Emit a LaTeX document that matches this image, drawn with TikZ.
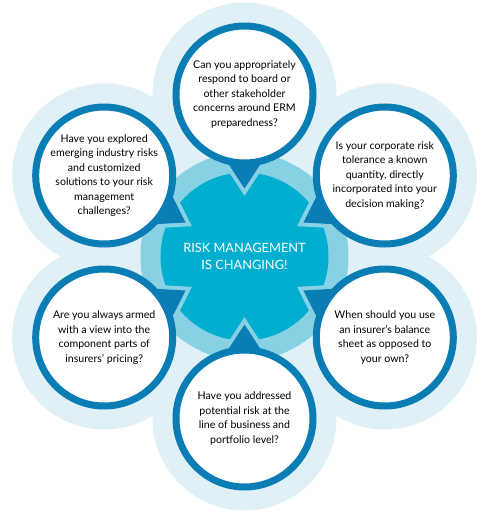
\documentclass[tikz,border=0pt]{standalone}
\usepackage{fontspec}
\setmainfont{Lato}
\usepackage{tikz}
\usetikzlibrary{calc}

\definecolor{ringblue}{HTML}{0A7DB5}
\definecolor{ringlight}{HTML}{86D1E4}
\definecolor{hubcyan}{HTML}{00AED0}
\definecolor{halo}{HTML}{DFF0F7}

% speech-bubble tail of a question circle, pointing at the hub
\newcommand{\tailpath}[1]{($(#1)!68pt!16:(hub)$) -- ($(#1)!94pt!(hub)$) -- ($(#1)!68pt!-16:(hub)$) -- cycle}

\begin{document}
\begin{tikzpicture}[
    x=1pt, y=1pt,
    hub/.style={circle, fill=hubcyan, minimum size=168pt, inner sep=0pt, text=white, align=center,
        font=\fontsize{12.8}{17}\selectfont},
    question/.style={circle, draw=ringblue, line width=7pt, fill=white, minimum size=137pt, inner sep=-8pt,
        align=center, font=\fontsize{10.6}{14.5}\selectfont},
    tail/.style={fill=ringblue},
    tailgap/.style={draw=ringlight, line width=8pt, line join=miter}
]
\useasboundingbox (-244.5,-255.5) rectangle (241.5,256.5);

\coordinate (erm-at) at (90:162);
\coordinate (tolerance-at) at (30:162);
\coordinate (balance-at) at (-30:162);
\coordinate (portfolio-at) at (-90:162);
\coordinate (pricing-at) at (210:162);
\coordinate (emerging-at) at (150:162);

% halos
\fill[halo] (erm-at) circle (92);
\fill[halo] (tolerance-at) circle (92);
\fill[halo] (balance-at) circle (92);
\fill[halo] (portfolio-at) circle (92);
\fill[halo] (pricing-at) circle (92);
\fill[halo] (emerging-at) circle (92);

\fill[ringlight] (0,0) circle (104);
\node[hub] (hub) at (0,0) {RISK MANAGEMENT\\IS CHANGING!};

% notches around the circles and tails
\begin{scope}
\clip (hub.center) circle (104);
\fill[ringlight] (erm-at) circle (80);
\fill[ringlight] (tolerance-at) circle (80);
\fill[ringlight] (balance-at) circle (80);
\fill[ringlight] (portfolio-at) circle (80);
\fill[ringlight] (pricing-at) circle (80);
\fill[ringlight] (emerging-at) circle (80);
\draw[tailgap] \tailpath{erm-at};
\draw[tailgap] \tailpath{tolerance-at};
\draw[tailgap] \tailpath{balance-at};
\draw[tailgap] \tailpath{portfolio-at};
\draw[tailgap] \tailpath{pricing-at};
\draw[tailgap] \tailpath{emerging-at};
\end{scope}

\node[question] (erm) at (erm-at) {Can you appropriately\\respond to board or\\other stakeholder\\concerns around ERM\\preparedness?};
\node[question] (tolerance) at (tolerance-at) {Is your corporate risk\\tolerance a known\\quantity, directly\\incorporated into your\\decision making?};
\node[question] (balance) at (balance-at) {When should you use\\an insurer’s balance\\sheet as opposed to\\your own?};
\node[question] (portfolio) at (portfolio-at) {Have you addressed\\potential risk at the\\line of business and\\portfolio level?};
\node[question] (pricing) at (pricing-at) {Are you always armed\\with a view into the\\component parts of\\insurers’ pricing?};
\node[question] (emerging) at (emerging-at) {Have you explored\\emerging industry risks\\and customized\\solutions to your risk\\management\\challenges?};

\fill[tail] \tailpath{erm};
\fill[tail] \tailpath{tolerance};
\fill[tail] \tailpath{balance};
\fill[tail] \tailpath{portfolio};
\fill[tail] \tailpath{pricing};
\fill[tail] \tailpath{emerging};

\end{tikzpicture}
\end{document}
